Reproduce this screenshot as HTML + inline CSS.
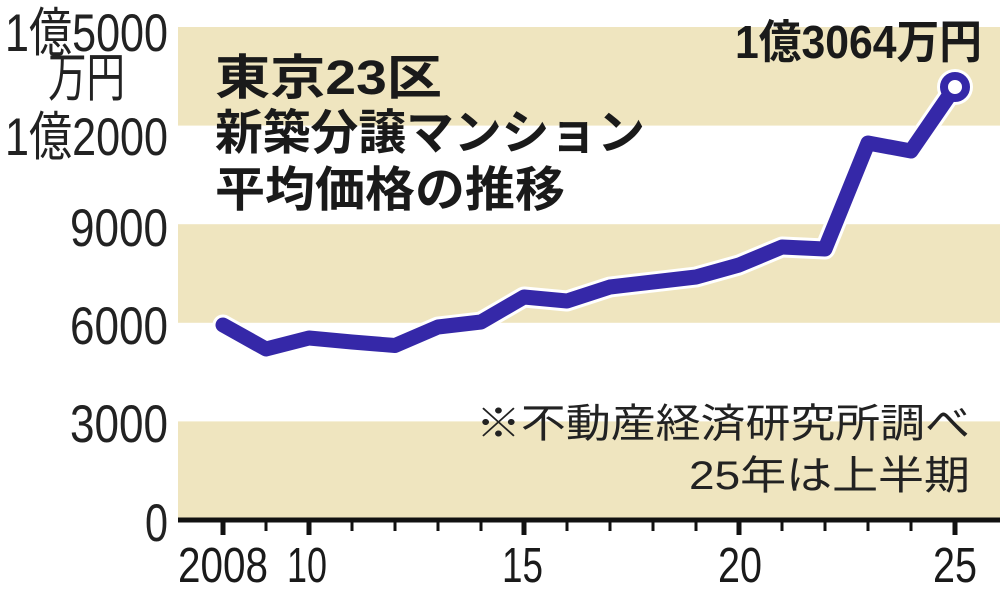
<!DOCTYPE html>
<html><head><meta charset="utf-8"><style>
html,body{margin:0;padding:0;background:#fff;}
svg{display:block;}
.yl{font-family:"Liberation Sans","Noto Sans CJK JP",sans-serif;font-size:53px;fill:#222;}
.xl{font-family:"Liberation Sans","Noto Sans CJK JP",sans-serif;font-size:49px;fill:#1a1a1a;}
.tt{font-family:"Liberation Sans","Noto Sans CJK JP",sans-serif;font-size:48px;font-weight:700;fill:#1a1a1a;}
.an{font-family:"Liberation Sans","Noto Sans CJK JP",sans-serif;font-size:46px;font-weight:700;fill:#1a1a1a;}
.nt{font-family:"Liberation Sans","Noto Sans CJK JP",sans-serif;font-size:40px;fill:#222;}
</style></head><body>
<svg width="1000" height="596" viewBox="0 0 1000 596" xmlns="http://www.w3.org/2000/svg">
<rect width="1000" height="596" fill="#fff"/>
<!-- bands -->
<rect x="178" y="27" width="822" height="98.6" fill="#efe5bf"/>
<rect x="178" y="224.2" width="822" height="98.6" fill="#efe5bf"/>
<rect x="178" y="421.4" width="822" height="97" fill="#efe5bf"/>

<!-- y labels -->
<text class="yl" x="5" y="51" textLength="163" lengthAdjust="spacingAndGlyphs">1億5000</text>
<text class="yl" x="48" y="96" textLength="77" lengthAdjust="spacingAndGlyphs">万円</text>
<text class="yl" x="5" y="155" textLength="163" lengthAdjust="spacingAndGlyphs">1億2000</text>
<text class="yl" x="70" y="246" textLength="98" lengthAdjust="spacingAndGlyphs">9000</text>
<text class="yl" x="70" y="344" textLength="98" lengthAdjust="spacingAndGlyphs">6000</text>
<text class="yl" x="70" y="442" textLength="98" lengthAdjust="spacingAndGlyphs">3000</text>
<text class="yl" x="145" y="541" textLength="23" lengthAdjust="spacingAndGlyphs">0</text>

<!-- title -->
<text class="tt" x="215" y="94" textLength="227" lengthAdjust="spacingAndGlyphs">東京23区</text>
<text class="tt" x="215" y="149" textLength="430" lengthAdjust="spacingAndGlyphs">新築分譲マンション</text>
<text class="tt" x="215" y="206" textLength="350" lengthAdjust="spacingAndGlyphs">平均価格の推移</text>

<!-- note -->
<text class="nt" x="476" y="437" textLength="494" lengthAdjust="spacingAndGlyphs">※不動産経済研究所調べ</text>
<text class="nt" x="689" y="489" textLength="281" lengthAdjust="spacingAndGlyphs">25年は上半期</text>

<!-- axis -->
<rect x="178" y="517.5" width="822" height="5" fill="#111"/>
<g fill="#111">
<rect x="220.5" y="520" width="5" height="15"/>
<rect x="264.5" y="520" width="3" height="11"/>
<rect x="306.5" y="520" width="5" height="15"/>
<rect x="350.5" y="520" width="3" height="11"/>
<rect x="393.5" y="520" width="3" height="11"/>
<rect x="436.5" y="520" width="3" height="11"/>
<rect x="479.5" y="520" width="3" height="11"/>
<rect x="521.5" y="520" width="5" height="15"/>
<rect x="565.5" y="520" width="3" height="11"/>
<rect x="608.5" y="520" width="3" height="11"/>
<rect x="651.5" y="520" width="3" height="11"/>
<rect x="694.5" y="520" width="3" height="11"/>
<rect x="736.5" y="520" width="5" height="15"/>
<rect x="780.5" y="520" width="3" height="11"/>
<rect x="823.5" y="520" width="3" height="11"/>
<rect x="866.5" y="520" width="3" height="11"/>
<rect x="909.5" y="520" width="3" height="11"/>
<rect x="952.5" y="520" width="5" height="15"/>
</g>

<!-- x labels -->
<text class="xl" x="178" y="582" textLength="90" lengthAdjust="spacingAndGlyphs">2008</text>
<text class="xl" x="287" y="582" textLength="40" lengthAdjust="spacingAndGlyphs">10</text>
<text class="xl" x="502" y="582" textLength="41" lengthAdjust="spacingAndGlyphs">15</text>
<text class="xl" x="718" y="582" textLength="44" lengthAdjust="spacingAndGlyphs">20</text>
<text class="xl" x="933" y="582" textLength="44" lengthAdjust="spacingAndGlyphs">25</text>

<!-- annotation -->
<text class="an" x="735" y="58" textLength="247" lengthAdjust="spacingAndGlyphs">1億3064万円</text>

<!-- line -->
<polyline fill="none" stroke="#fff" stroke-width="21" stroke-linecap="round" stroke-linejoin="round"
points="223,325 266,349 309,338 352,342 395,345.5 438,327 481,322 524,297 567,301 610,287 653,282 696,277 739,265 782,247 825,249 868,143 911,151 955,87"/>
<circle cx="955" cy="87" r="18" fill="#fff"/>
<polyline fill="none" stroke="#3528a8" stroke-width="15" stroke-linecap="round" stroke-linejoin="round"
points="223,325 266,349 309,338 352,342 395,345.5 438,327 481,322 524,297 567,301 610,287 653,282 696,277 739,265 782,247 825,249 868,143 911,151 955,87"/>
<circle cx="955" cy="87" r="11" fill="#fff" stroke="#3528a8" stroke-width="8"/>
</svg>
</body></html>
